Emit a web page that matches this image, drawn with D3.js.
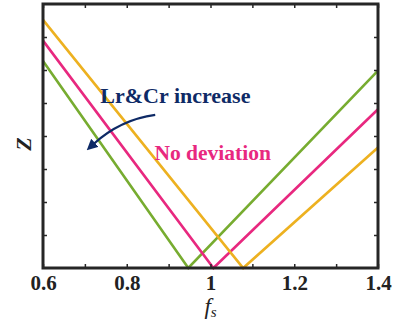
<!DOCTYPE html>
<html>
<head>
<meta charset="utf-8">
<script src="https://cdn.jsdelivr.net/npm/d3@7"></script>
<style>
  body { margin: 0; background: #fff; }
  svg text { font-family: "Liberation Serif", "Times New Roman", serif; }
  .line { fill: none; stroke-width: 2.6; stroke-linejoin: miter; }
</style>
</head>
<body>
<svg width="397" height="322"></svg>
<script>
// data
var fsGreen = [0.6, 0.947, 1.4],   zGreen = [6.27, 0, 5.98];
var fsPink = [0.6, 1.007, 1.4],    zPink = [6.89, 0, 4.81];
var fsOrange = [0.6, 1.078, 1.4],  zOrange = [7.52, 0, 3.65];
var xTicks = [0.6, 0.7, 0.8, 0.9, 1, 1.1, 1.2, 1.3, 1.4];
var xLabels = [0.6, 0.8, 1, 1.2, 1.4];
var yTicks = [1, 2, 3, 4, 5, 6, 7];

var svg = d3.select("svg"),
    margin = {top: 4, right: 19, bottom: 54, left: 43},
    width = +svg.attr("width") - margin.left - margin.right,
    height = +svg.attr("height") - margin.top - margin.bottom,
    g = svg.append("g").attr("transform", "translate(" + margin.left + "," + margin.top + ")");

var x = d3.scaleLinear().domain([0.6, 1.4]).range([0, width]);
var y = d3.scaleLinear().domain([0, 8]).range([height, 0]);

var series = [
  {fs: fsGreen, z: zGreen, color: "#77ac30"},
  {fs: fsPink, z: zPink, color: "#e8287f"},
  {fs: fsOrange, z: zOrange, color: "#edb120"}
];

var line = d3.line()
  .x(function(d) { return x(d[0]); })
  .y(function(d) { return y(d[1]); });

series.forEach(function(s) {
  g.append("path")
    .datum(d3.zip(s.fs, s.z))
    .attr("class", "line")
    .attr("stroke", s.color)
    .attr("d", line);
});

// axes, ticks pointing inward on all four sides
var axisColor = "#262626";
g.append("g")
  .attr("transform", "translate(0," + height + ")")
  .call(d3.axisBottom(x).tickValues(xTicks).tickSizeInner(-4).tickSizeOuter(0)
    .tickFormat(function(d) { return xLabels.indexOf(d) >= 0 ? d3.format("")(d) : ""; }))
  .call(function(a) {
    a.select(".domain").remove();
    a.selectAll("line").attr("stroke", axisColor).attr("stroke-width", 1.5);
    a.selectAll("text").attr("y", 7).attr("dy", "0.71em")
      .style("font-size", "21px").style("font-weight", "bold").attr("fill", "#222");
  });
g.append("g")
  .call(d3.axisTop(x).tickValues(xTicks).tickSizeInner(-4).tickSizeOuter(0).tickFormat(""))
  .call(function(a) { a.select(".domain").remove(); a.selectAll("line").attr("stroke", axisColor).attr("stroke-width", 1.5); });
g.append("g")
  .call(d3.axisLeft(y).tickValues(yTicks).tickSizeInner(-4).tickSizeOuter(0).tickFormat(""))
  .call(function(a) { a.select(".domain").remove(); a.selectAll("line").attr("stroke", axisColor).attr("stroke-width", 1.5); });
g.append("g")
  .attr("transform", "translate(" + width + ",0)")
  .call(d3.axisRight(y).tickValues(yTicks).tickSizeInner(-4).tickSizeOuter(0).tickFormat(""))
  .call(function(a) { a.select(".domain").remove(); a.selectAll("line").attr("stroke", axisColor).attr("stroke-width", 1.5); });

g.append("rect")
  .attr("width", width).attr("height", height)
  .attr("fill", "none").attr("stroke", axisColor).attr("stroke-width", 3);

// axis titles
g.append("text")
  .attr("transform", "translate(-12," + (height / 2 + 8) + ") rotate(-90)")
  .attr("text-anchor", "middle")
  .style("font-size", "22px").style("font-weight", "bold").style("font-style", "italic")
  .attr("fill", "#222")
  .text("Z");

var xt = g.append("text")
  .attr("x", x(1.0)).attr("y", height + 46)
  .attr("text-anchor", "middle")
  .style("font-size", "23px").style("font-style", "italic").attr("fill", "#222");
xt.append("tspan").text("f");
xt.append("tspan").attr("dy", 3).style("font-size", "15px").text("s");

// annotations
var navy = "#0e2a66";
svg.append("defs").append("marker")
  .attr("id", "ah").attr("viewBox", "0 0 10 10").attr("refX", 2).attr("refY", 5)
  .attr("markerWidth", 5).attr("markerHeight", 5).attr("orient", "auto")
  .append("path").attr("d", "M0,0L10,5L0,10z").attr("fill", navy);

var arrowStart = [0.868, 4.64], arrowCtrl = [0.785, 4.5], arrowEnd = [0.72, 3.75];
g.append("path")
  .attr("d", "M" + x(arrowStart[0]) + "," + y(arrowStart[1]) +
             "Q" + x(arrowCtrl[0]) + "," + y(arrowCtrl[1]) + " " +
             x(arrowEnd[0]) + "," + y(arrowEnd[1]))
  .attr("fill", "none").attr("stroke", navy).attr("stroke-width", 2.2)
  .attr("marker-end", "url(#ah)");

g.append("text")
  .attr("x", x(0.737)).attr("y", y(5.0))
  .style("font-size", "22px").style("font-weight", "bold").attr("fill", navy)
  .text("Lr&Cr increase");

g.append("text")
  .attr("x", x(0.866)).attr("y", y(3.27))
  .style("font-size", "21.5px").style("font-weight", "bold").attr("fill", "#e8287f")
  .text("No deviation");
</script>
</body>
</html>
